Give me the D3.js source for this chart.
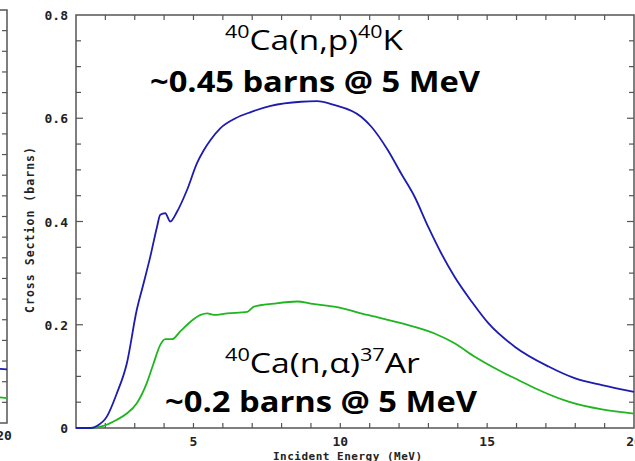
<!DOCTYPE html>
<html>
<head>
<meta charset="utf-8">
<script src="https://cdn.jsdelivr.net/npm/d3@7"></script>
<style>
  html, body { margin: 0; padding: 0; background: #fff; }
  svg { display: block; }
</style>
</head>
<body>
<svg id="chart" width="635" height="461"></svg>
<script>
// ---- Data ----
const energyNP = [1.0, 1.5, 1.71, 2.05, 2.39, 2.73, 3.07, 3.30, 3.53, 3.76, 3.87, 4.04, 4.21, 4.44, 4.78, 5.12, 5.35, 5.58, 5.92, 6.43, 6.95, 7.63, 8.66, 9.2, 9.78, 10.71, 11.05, 11.62, 12.07, 12.53, 12.99, 13.44, 13.89, 14.47, 15.04, 15.95, 17.09, 18.0, 18.91, 20.0];
const sigmaNP  = [0, 0, 0.004, 0.022, 0.067, 0.125, 0.229, 0.28, 0.332, 0.39, 0.413, 0.416, 0.40, 0.419, 0.461, 0.513, 0.538, 0.558, 0.581, 0.60, 0.612, 0.624, 0.632, 0.633, 0.626, 0.603, 0.584, 0.538, 0.493, 0.448, 0.39, 0.338, 0.293, 0.245, 0.203, 0.157, 0.119, 0.096, 0.083, 0.070];

const energyNA = [1.0, 1.5, 1.93, 2.39, 2.73, 3.07, 3.41, 3.64, 3.87, 4.04, 4.27, 4.55, 4.84, 5.24, 5.47, 5.69, 6.15, 6.83, 7.06, 7.74, 8.54, 8.99, 9.79, 10.93, 12.07, 13.21, 13.89, 14.58, 15.49, 16.06, 16.63, 17.77, 18.91, 20.0];
const sigmaNA  = [0, 0, 0.004, 0.016, 0.028, 0.048, 0.087, 0.125, 0.161, 0.172, 0.172, 0.187, 0.203, 0.219, 0.222, 0.219, 0.222, 0.225, 0.235, 0.241, 0.245, 0.241, 0.235, 0.219, 0.203, 0.183, 0.164, 0.138, 0.109, 0.093, 0.077, 0.051, 0.036, 0.028];

// partially visible neighbouring chart (left edge)
const partialEnergy = [19.5, 20];
const partialBlue   = [0.0265, 0.026];
const partialGreen  = [0.0128, 0.012];

const xMajorTicks = [5, 10, 15, 20];
const yMajorTicks = [0, 0.2, 0.4, 0.6, 0.8];
const yTickLabels = ["0", "0.2", "0.4", "0.6", "0.8"];

const xTitle = "Incident Energy (MeV)";
const yTitle = "Cross Section (barns)";

// ---- Layout ----
const svg = d3.select("#chart");
const L = 76, R = 634, T = 15, B = 428;
const axisColor = "#555";
const tickFont = "'DejaVu Sans Mono', monospace";
const labelColor = "#222";

const x = d3.scaleLinear().domain([1, 20]).range([L, R]);
const y = d3.scaleLinear().domain([0, 0.8]).range([B, T]);

// frame
svg.append("rect").attr("x", L).attr("y", T).attr("width", R - L).attr("height", B - T)
  .attr("fill", "none").attr("stroke", axisColor).attr("stroke-width", 1.5);

// ticks
const xMinor = d3.range(2, 20, 1);
const yMinor = d3.range(1, 16).map(i => i * 0.05);
const tg = svg.append("g").attr("stroke", axisColor).attr("stroke-width", 1.2);
xMinor.forEach(v => {
  tg.append("line").attr("x1", x(v)).attr("x2", x(v)).attr("y1", B).attr("y2", B - 5);
  tg.append("line").attr("x1", x(v)).attr("x2", x(v)).attr("y1", T).attr("y2", T + 5);
});
yMinor.forEach((v, i) => {
  const len = (i + 1) % 4 === 0 ? 7 : 5;
  tg.append("line").attr("x1", L).attr("x2", L + len).attr("y1", y(v)).attr("y2", y(v));
  tg.append("line").attr("x1", R).attr("x2", R - len).attr("y1", y(v)).attr("y2", y(v));
});

// tick labels
svg.append("g").selectAll("text").data(xMajorTicks).join("text")
  .attr("x", d => x(d)).attr("y", 446)
  .attr("text-anchor", "middle")
  .attr("font-family", tickFont).attr("font-weight", "bold").attr("font-size", 13)
  .attr("fill", labelColor).text(d => d);

svg.append("g").selectAll("text").data(yMajorTicks).join("text")
  .attr("x", 68).attr("y", d => y(d) + 5)
  .attr("text-anchor", "end")
  .attr("font-family", tickFont).attr("font-weight", "bold").attr("font-size", 13)
  .attr("fill", labelColor).text((d, i) => yTickLabels[i]);

// axis titles
svg.append("text").attr("x", 273).attr("y", 460)
  .attr("textLength", 149).attr("lengthAdjust", "spacing")
  .attr("font-family", tickFont).attr("font-weight", "bold").attr("font-size", 11)
  .attr("fill", labelColor).text(xTitle);

svg.append("text").attr("transform", "translate(34,313) rotate(-90)")
  .attr("textLength", 166).attr("lengthAdjust", "spacing")
  .attr("font-family", tickFont).attr("font-weight", "bold").attr("font-size", 11.5)
  .attr("fill", labelColor).text(yTitle);

// curves
const line = d3.line().curve(d3.curveMonotoneX).x(d => x(d[0])).y(d => y(d[1]));
svg.append("path").datum(d3.zip(energyNA, sigmaNA)).attr("d", line)
  .attr("fill", "none").attr("stroke", "#1fb51f").attr("stroke-width", 1.8);
svg.append("path").datum(d3.zip(energyNP, sigmaNP)).attr("d", line)
  .attr("fill", "none").attr("stroke", "#1c1cb0").attr("stroke-width", 1.8);

// partial chart on the left edge
const px = d3.scaleLinear().domain([1, 20]).range([-550, 7]);
const py = d3.scaleLinear().domain([0, 0.2]).range([423, 10]);
const pg = svg.append("g");
pg.append("path").attr("d", `M${px(19)},${py(0.2)}H${px(20)}V${py(0)}H${px(19)}`)
  .attr("fill", "none").attr("stroke", axisColor).attr("stroke-width", 1.5);
d3.range(1, 20).map(i => i * 0.01).forEach(v => {
  pg.append("line").attr("x1", px(20)).attr("x2", px(20) - 5).attr("y1", py(v)).attr("y2", py(v))
    .attr("stroke", axisColor).attr("stroke-width", 1.2);
});
const pline = d3.line().x(d => px(d[0])).y(d => py(d[1]));
pg.append("path").datum(d3.zip(partialEnergy, partialBlue)).attr("d", pline)
  .attr("fill", "none").attr("stroke", "#1c1cb0").attr("stroke-width", 1.8);
pg.append("path").datum(d3.zip(partialEnergy, partialGreen)).attr("d", pline)
  .attr("fill", "none").attr("stroke", "#1fb51f").attr("stroke-width", 1.8);
pg.append("text").attr("x", px(20) - 3).attr("y", 440).attr("text-anchor", "middle")
  .attr("font-family", tickFont).attr("font-weight", "bold").attr("font-size", 13)
  .attr("fill", labelColor).text("20");

// annotations
const annFont = "'Open Sans', Lato, sans-serif";
function reaction(xPos, yPos, width, parts) {
  const t = svg.append("text").attr("x", xPos).attr("y", yPos)
    .attr("font-family", annFont).attr("fill", "#000");
  let shift = 0;
  parts.forEach(p => {
    const s = t.append("tspan").text(p.t);
    if (p.sup) { s.attr("font-size", 18).attr("dy", -12 - shift); shift = -12; }
    else { s.attr("font-size", 28).attr("dy", -shift); shift = 0; }
  });
  // fit to the measured width of the reference label
  const w = t.node().getComputedTextLength();
  t.attr("transform", `translate(${xPos},0) scale(${width / w},1) translate(${-xPos},0)`);
  return t;
}
reaction(225, 50, 178, [{t: "40", sup: true}, {t: "Ca(n,p)"}, {t: "40", sup: true}, {t: "K"}]);
reaction(225, 373, 195, [{t: "40", sup: true}, {t: "Ca(n,\u03b1)"}, {t: "37", sup: true}, {t: "Ar"}]);

svg.append("text").attr("x", 150).attr("y", 92)
  .attr("textLength", 330).attr("lengthAdjust", "spacingAndGlyphs")
  .attr("font-family", annFont).attr("font-weight", "bold").attr("font-size", 28)
  .attr("fill", "#000").text("~0.45 barns @ 5 MeV");
svg.append("text").attr("x", 165).attr("y", 412)
  .attr("textLength", 312).attr("lengthAdjust", "spacingAndGlyphs")
  .attr("font-family", annFont).attr("font-weight", "bold").attr("font-size", 28)
  .attr("fill", "#000").text("~0.2 barns @ 5 MeV");
</script>
</body>
</html>
